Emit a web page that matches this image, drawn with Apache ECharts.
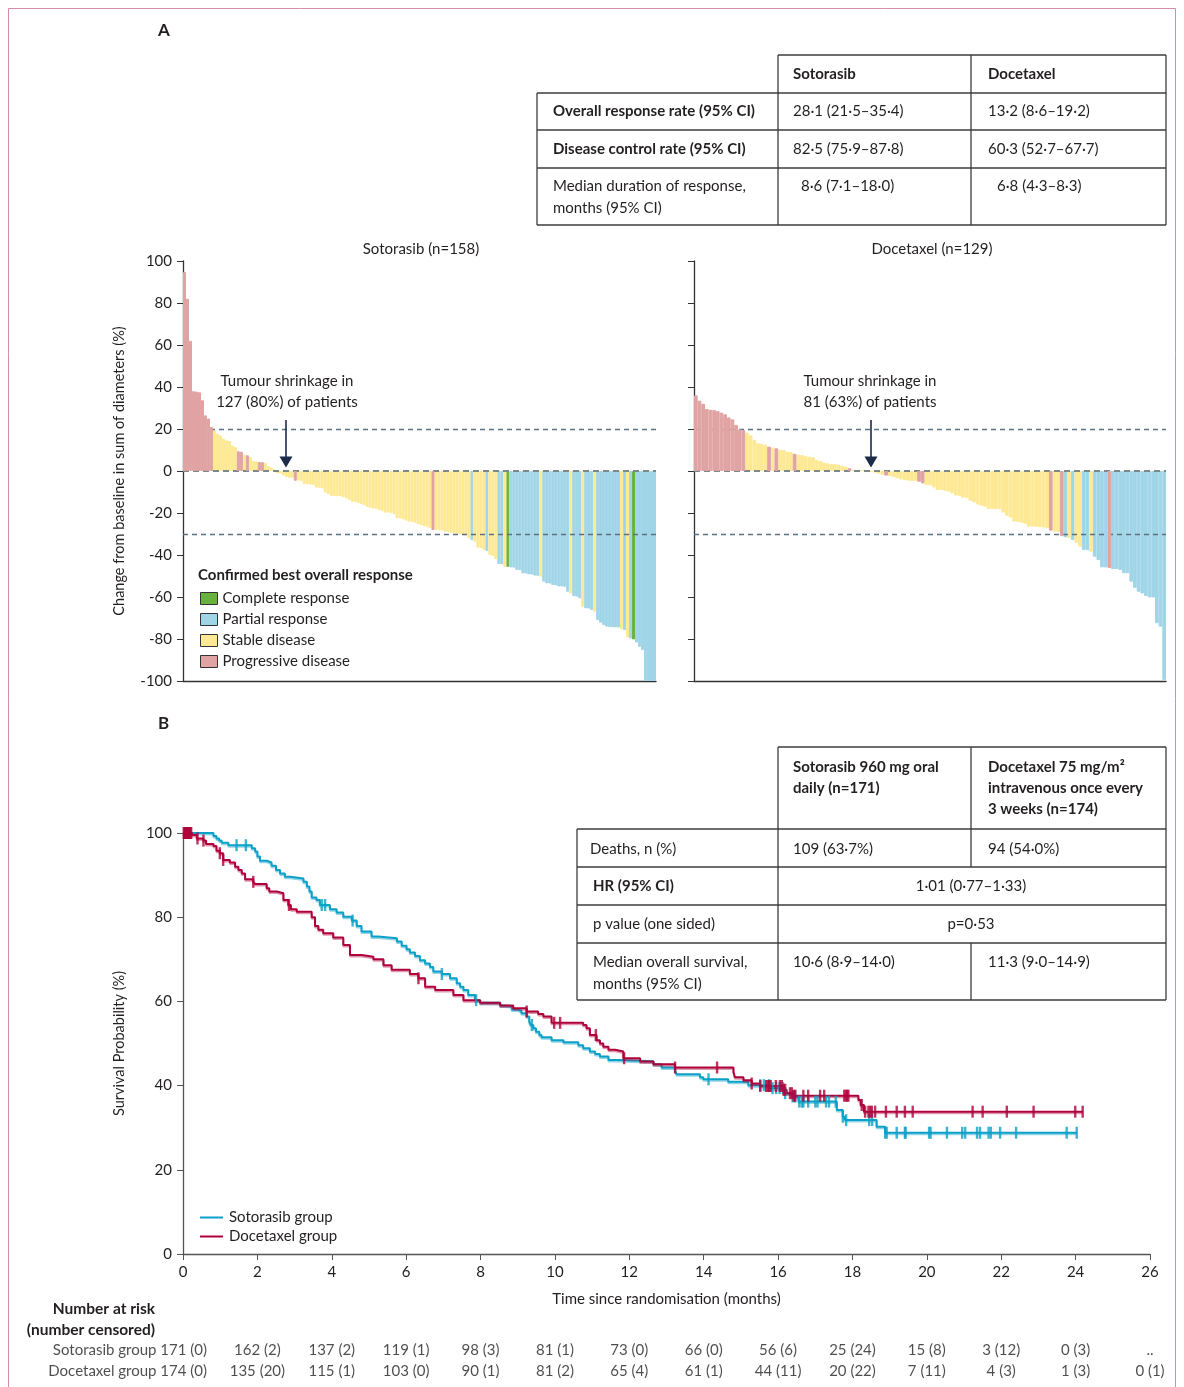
<!DOCTYPE html>
<html><head><meta charset="utf-8">
<script src="https://cdn.jsdelivr.net/npm/echarts@6/dist/echarts.min.js"></script>
<style>html,body{margin:0;padding:0;background:#fff}#c{width:1184px;height:1387px}</style>
</head><body><div id="c"></div>
<script>
const FONT = 'Lato';
const INK = '#231f20';
// ---------- Panel A: waterfall data ----------
const respNames = {C:'Complete response', R:'Partial response', S:'Stable disease', P:'Progressive disease'};
const respColors = {C:'#6ab23e', R:'#a0d5e8', S:'#fde994', P:'#e0a3a3'};
const respOrder = ['C','R','S','P'];

const sotoVals = [
 94.8,82,62,38,37.8,37.5,33.7,26.5,25,21,
 19.4,17.8,17,15.4,14.6,14.3,12.2,11.4,9.4,9.2,
 7.8,7.5,6.7,4.8,4.6,4.3,4.2,4.0,2.4,1.7,
 0.8,-1.1,-1.2,-2.2,-2.9,-3.2,-3.3,-4.6,-4.6,-4.7,
 -6.2,-6.3,-6.5,-6.6,-7.9,-8.0,-8.3,-10.3,-11,-11.9,
 -11.9,-12,-12,-12.5,-13,-13.8,-14.6,-14.7,-15.1,-15.7,
 -16.2,-17,-17.5,-17.9,-18,-18.6,-19,-19.8,-19.8,-19.9,
 -20.6,-22.5,-22.6,-23,-23.6,-24.1,-24.2,-24.6,-25.2,-25.8,
 -26.2,-26.5,-27.3,-28.1,-28.1,-28.2,-28.3,-28.9,-29,-29.7,
 -29.7,-29.8,-30.2,-30.5,-30.6,-32,-32.9,-33.7,-36.5,-36.6,
 -37.6,-38,-40,-40.5,-42,-44.3,-44.4,-45.6,-45.6,-45.9,
 -46,-47.1,-47.2,-48.7,-48.8,-49.2,-49.3,-49.8,-49.9,-50.3,
 -52.7,-53.5,-53.6,-54.3,-54.4,-55,-55,-55.1,-57.5,-58.3,
 -59.5,-59.8,-60.6,-64.6,-65.4,-65.5,-66.2,-67,-71,-72.2,
 -73.3,-74.1,-74.4,-74.4,-74.5,-74.5,-75.4,-75.7,-79.2,-79.7,
 -80.2,-81.7,-83.7,-85.2,-100,-100,-100,-100
];
// response runs [code, count], in bar order
const sotoRespRuns = [['P',10],['S',8],['P',2],['S',1],['P',1],['S',3],['P',2],['S',10],['P',1],['S',45],['P',1],['S',12],
 ['R',1],['S',4],['R',1],['S',3],['R',2],['S',1],['C',1],['R',10],['S',1],['R',9],['S',1],['R',3],['S',1],['R',3],['S',1],
 ['R',8],['S',1],['R',1],['S',1],['R',1],['C',1],['R',7]];

const doceVals = [
 36,33.5,32,29.6,29.2,29,28.5,27.8,27,25.5,
 24.6,22,19.8,19.5,18.3,17,14.8,13.2,12.9,12.5,
 11.6,11.2,10.8,10,10,9.2,9,8.2,7.8,7.6,
 7.1,6.8,6.5,5.2,4.8,4,3.7,3.3,3.3,3,
 2.5,2.1,1.3,0.5,0.5,0.4,0.3,0.2,-0.4,-0.8,
 -1.3,-1.8,-2.2,-2.4,-2.8,-3.5,-4,-4.3,-4.6,-4.7,
 -4.8,-5.1,-5.9,-6.7,-6.8,-7.8,-9,-9,-9.4,-9.8,
 -10.6,-11.7,-11.8,-12.7,-12.8,-14.1,-14.9,-15.9,-16.5,-17,
 -18.1,-18.1,-18.2,-18.2,-19.8,-21.3,-22.2,-24.1,-24.2,-24.6,
 -25.2,-26.5,-26.5,-26.6,-26.8,-26.9,-27.3,-28.4,-28.9,-29,
 -31,-31.6,-32,-32.9,-34.2,-36,-37.6,-37.6,-38.4,-40.8,
 -42.4,-45.9,-45.9,-46.2,-46.7,-46.7,-47.1,-48.7,-48.7,-52.7,
 -55.6,-57.5,-58.3,-59.5,-60.2,-60.2,-72.5,-74.1,-99.5
];
const doceRespRuns = [['P',14],['S',6],['P',1],['S',1],['P',1],['S',4],['P',1],['S',14],['P',1],['S',9],['P',1],['S',8],
 ['P',2],['S',34],['P',1],['S',2],['P',1],['R',1],['S',1],['R',1],['S',2],['R',2],['S',1],['R',4],['P',1],['R',15]];

const refLines = [20, -30];
const panelTitles = ['Sotorasib (n=158)', 'Docetaxel (n=129)'];
const yTicksA = {min:-100, max:100, interval:20};

// ---------- Panel B: Kaplan-Meier data [months, survival %] ----------
const sotoKM = [[0,100],[0.82,99.3],[0.9,98.7],[0.97,98.2],[1.04,97.7],[1.22,97.1],[1.85,96.4],[1.94,95.6],[2.0,94.4],[2.07,93.4],
 [2.25,93.0],[2.38,92.2],[2.5,91.2],[2.61,90.4],[2.74,89.6],[2.88,89.2],[3.24,88.4],[3.33,87.3],[3.4,86.1],[3.46,84.7],
 [3.59,84.1],[3.68,82.9],[3.95,81.9],[4.13,81.1],[4.31,80.1],[4.54,79.2],[4.67,77.9],[4.8,76.6],[5.07,75.4],[5.25,75.0],
 [5.75,74.2],[5.88,73.2],[6.01,72.4],[6.1,71.6],[6.24,70.8],[6.37,69.8],[6.51,69.0],[6.64,68.2],[6.73,67.1],[6.96,66.5],
 [7.18,65.5],[7.36,64.3],[7.45,63.5],[7.54,62.7],[7.67,61.5],[7.85,60.3],[7.99,59.7],[8.52,59.1],[8.57,58.9],[8.84,58.1],
 [8.97,57.8],[9.1,57.2],[9.24,56.4],[9.31,55.2],[9.35,54.4],[9.42,53.6],[9.49,52.8],[9.58,52.0],[9.64,51.5],[9.91,50.8],
 [10.23,50.3],[10.63,49.6],[10.76,48.9],[10.94,48.1],[11.08,47.5],[11.21,46.9],[11.44,46.1],[11.71,45.8],[12.65,45.1],[12.87,44.3],
 [13.23,43.7],[13.27,42.7],[13.9,42.0],[13.99,41.5],[14.66,40.9],[15.2,40.1],[15.78,39.4],[16.14,38.2],[16.37,37.4],[16.55,36.2],
 [17.58,34.2],[17.74,32.6],[17.8,31.8],[18.65,30.2],[18.88,28.8],[24.03,28.8]];
const doceKM = [[0,100],[0.24,99.5],[0.37,98.7],[0.55,98.2],[0.62,97.4],[0.82,96.9],[0.9,95.8],[0.99,95.2],[1.08,93.6],[1.26,93.0],
 [1.4,92.0],[1.49,91.2],[1.58,90.4],[1.67,89.0],[1.89,88.4],[1.94,87.9],[2.25,86.9],[2.32,86.1],[2.52,85.7],[2.7,84.1],
 [2.83,82.9],[2.9,81.9],[3.06,81.3],[3.46,80.0],[3.55,77.9],[3.64,77.0],[3.77,76.2],[4.04,75.2],[4.31,73.4],[4.49,71.0],
 [4.8,70.6],[5.12,70.0],[5.39,68.6],[5.61,67.5],[6.1,66.5],[6.33,65.5],[6.51,63.5],[6.78,62.7],[7.27,61.5],[7.54,60.3],
 [7.99,59.7],[8.53,59.0],[8.88,58.4],[9.24,57.6],[9.55,57.0],[9.69,56.4],[9.91,54.9],[10.76,54.4],[10.85,53.6],[10.94,52.0],
 [11.12,50.8],[11.21,50.0],[11.3,49.2],[11.44,48.5],[11.62,48.1],[11.84,46.5],[12.29,45.7],[12.65,45.1],[13.23,44.3],[14.8,43.3],
 [14.84,42.0],[15.07,41.3],[15.29,40.5],[15.52,39.9],[16.14,39.0],[16.23,38.2],[16.41,37.6],[18.16,36.6],[18.22,35.4],[18.31,33.8],
 [24.19,33.8]];
const sotoCens = [1.44,1.69,3.73,3.82,4.56,6.96,7.88,9.38,14.13,15.52,15.62,15.76,15.85,15.95,16.04,16.13,16.19,16.39,16.46,16.57,
 16.64,16.68,16.81,17.0,17.06,17.29,17.37,17.55,17.74,17.83,18.45,18.53,18.88,18.92,19.19,19.41,19.43,20.06,20.1,20.54,
 20.95,21.03,21.35,21.43,21.66,21.72,21.97,22.4,23.76,24.03];
const doceCens = [0.02,0.04,0.06,0.08,0.1,0.12,0.14,0.16,0.18,0.2,0.22,0.39,0.55,0.99,1.08,1.89,2.85,6.33,9.24,9.98,
 10.14,11.1,11.86,13.23,14.36,15.29,15.52,15.68,15.72,15.76,15.8,15.94,16.05,16.1,16.15,16.19,16.32,16.37,16.42,16.46,
 16.68,16.81,17.13,17.24,17.78,17.82,17.86,17.89,18.25,18.34,18.43,18.48,18.52,18.61,18.9,19.19,19.41,19.62,21.23,21.5,
 22.15,22.87,23.99,24.19];
const kmNames = ['Sotorasib group','Docetaxel group'];
const kmColors = ['#0aa0c8','#b0003a'];
const xTicksB = {min:0, max:26, interval:2};
const yTicksB = {min:0, max:100, interval:20};

// number at risk
const riskTimes = [0,2,4,6,8,10,12,14,16,18,20,22,24,26];
const sotoRisk = ['171 (0)','162 (2)','137 (2)','119 (1)','98 (3)','81 (1)','73 (0)','66 (0)','56 (6)','25 (24)','15 (8)','3 (12)','0 (3)','..'];
const doceRisk = ['174 (0)','135 (20)','115 (1)','103 (0)','90 (1)','81 (2)','65 (4)','61 (1)','44 (11)','20 (22)','7 (11)','4 (3)','1 (3)','0 (1)'];

// tables
const tableAHead = ['Sotorasib','Docetaxel'];
const tableARows = [
 {label:['Overall response rate (95% CI)'], bold:true, a:'28·1 (21·5–35·4)', b:'13·2 (8·6–19·2)'},
 {label:['Disease control rate (95% CI)'], bold:true, a:'82·5 (75·9–87·8)', b:'60·3 (52·7–67·7)'},
 {label:['Median duration of response,','months (95% CI)'], bold:false, a:'8·6 (7·1–18·0)', b:'6·8 (4·3–8·3)'}
];
const tableBHead = [['Sotorasib 960 mg oral','daily (n=171)'],['Docetaxel 75 mg/m²','intravenous once every','3 weeks (n=174)']];
const tableBRows = [
 {label:['Deaths, n (%)'], bold:false, a:'109 (63·7%)', b:'94 (54·0%)'},
 {label:['HR (95% CI)'], bold:true, merged:'1·01 (0·77–1·33)'},
 {label:['p value (one sided)'], bold:false, merged:'p=0·53'},
 {label:['Median overall survival,','months (95% CI)'], bold:false, a:'10·6 (8·9–14·0)', b:'11·3 (9·0–14·9)'}
];

// ---------- helpers ----------
function expandRuns(runs){ const out=[]; runs.forEach(([c,n])=>{ for(let k=0;k<n;k++) out.push(c); }); return out; }
const sotoResp = expandRuns(sotoRespRuns);
const doceResp = expandRuns(doceRespRuns);
function survAt(km, t){ let s = km[0][1]; for (const p of km){ if (p[0] <= t) s = p[1]; else break; } return s; }

function T(text, x, y, o){ return {type:'text', silent:true, z:50, style:Object.assign({text, x, y, fill:INK, fontSize:15, fontFamily:FONT, align:'left', verticalAlign:'middle'}, o||{})}; }
function L(x1,y1,x2,y2,c,w){ return {type:'line', silent:true, z:50, shape:{x1,y1,x2,y2}, style:{stroke:c||'#3c3c3c', lineWidth:w||1.3}}; }

const graphics = [];
graphics.push({type:'rect', silent:true, z:0, shape:{x:8.5,y:8.5,width:1167,height:1400}, style:{fill:null, stroke:'#d88aa8', lineWidth:1}});
graphics.push(T('A',158,31,{fontWeight:'bold',fontSize:17}));
graphics.push(T('B',158,724,{fontWeight:'bold',fontSize:17}));

// Table A
[[778,55,1166,55],[537,93,1166,93],[537,130,1166,130],[537,168,1166,168],[537,225,1166,225],
 [537,93,537,225],[778,55,778,225],[971,55,971,225],[1166,55,1166,225]].forEach(a=>graphics.push(L(...a)));
graphics.push(T(tableAHead[0],793,74,{fontWeight:'bold'}));
graphics.push(T(tableAHead[1],988,74,{fontWeight:'bold'}));
const rowAY=[111,149,186];
tableARows.forEach((r,i)=>{
  r.label.forEach((s,j)=>graphics.push(T(s,553,rowAY[i]+j*22,{fontWeight:r.bold?'bold':'normal'})));
  graphics.push(T(r.a, i===2?801:793, rowAY[i]));
  graphics.push(T(r.b, i===2?997:988, rowAY[i]));
});

// Table B
[[778,747,1166,747],[577,829,1166,829],[577,867,1166,867],[577,905,1166,905],[577,943,1166,943],[577,1000,1166,1000],
 [577,829,577,1000],[778,747,778,1000],[971,747,971,867],[971,943,971,1000],[1166,747,1166,1000]].forEach(a=>graphics.push(L(...a)));
tableBHead[0].forEach((s,j)=>graphics.push(T(s,793,767+j*21,{fontWeight:'bold'})));
tableBHead[1].forEach((s,j)=>graphics.push(T(s,988,767+j*21,{fontWeight:'bold'})));
const rowBY=[849,886,924,962];
tableBRows.forEach((r,i)=>{
  r.label.forEach((s,j)=>graphics.push(T(s, i===0?590:593, rowBY[i]+j*22,{fontWeight:r.bold?'bold':'normal'})));
  if (r.merged) graphics.push(T(r.merged,971,rowBY[i],{align:'center'}));
  else { graphics.push(T(r.a,793,rowBY[i])); graphics.push(T(r.b,988,rowBY[i])); }
});

// Panel A titles, annotations, legend title
graphics.push(T(panelTitles[0],421,249,{align:'center'}));
graphics.push(T(panelTitles[1],932,249,{align:'center'}));
graphics.push(T('Tumour shrinkage in',287,381,{align:'center'}));
graphics.push(T('127 (80%) of patients',287,402,{align:'center'}));
graphics.push(T('Tumour shrinkage in',870,381,{align:'center'}));
graphics.push(T('81 (63%) of patients',870,402,{align:'center'}));
[[286],[871]].forEach(([ax])=>{
  graphics.push(L(ax,420,ax,458,'#1c2b4a',1.6));
  graphics.push({type:'polygon', silent:true, z:50, shape:{points:[[ax-6.5,456.5],[ax+6.5,456.5],[ax,467.5]]}, style:{fill:'#1c2b4a'}});
});
graphics.push(T('Confirmed best overall response',198,575,{fontWeight:'bold'}));
graphics.push(T('Number at risk',155,1309,{fontWeight:'bold',align:'right',fontSize:15.5}));
graphics.push(T('(number censored)',155,1330,{fontWeight:'bold',align:'right',fontSize:15.5}));

// ---------- series ----------
const series = [];
function waterfall(vals, resp, gi){
  respOrder.forEach(code=>{
    const s = {
      name: respNames[code], type:'bar', xAxisIndex:gi, yAxisIndex:gi, stack:'w'+gi,
      barCategoryGap:'0%', itemStyle:{color:respColors[code], borderColor:respColors[code], borderWidth:1},
      data: vals.map((v,i)=> resp[i]===code ? v : null),
      silent:true
    };
    if (code==='P'){
      s.z = 5;
      s.markLine = {silent:true, symbol:['none','none'], label:{show:false},
        lineStyle:{type:[5,4], color:'#5d7280', width:1.3},
        data: refLines.map(v=>({yAxis:v})).concat([{yAxis:0, lineStyle:{type:[6,4], color:'#7d8888', width:2}}])};
    }
    series.push(s);
  });
}
waterfall(sotoVals, sotoResp, 0);
waterfall(doceVals, doceResp, 1);

[sotoKM, doceKM].forEach((km,k)=>{
  series.push({name:kmNames[k], type:'line', step:'end', xAxisIndex:2, yAxisIndex:2, showSymbol:false, silent:true,
    color:kmColors[k], data:km, z:3,
    lineStyle:{width:2, color:kmColors[k], shadowColor: k===0?'rgba(10,160,200,0.45)':'rgba(176,0,58,0.4)', shadowOffsetY:1.5, shadowBlur:0}});
});
[sotoCens, doceCens].forEach((cens,k)=>{
  const km = k===0?sotoKM:doceKM;
  series.push({name:'cens'+k, type:'scatter', xAxisIndex:2, yAxisIndex:2, symbol:'rect', symbolSize:[2.4,12], silent:true, z:4,
    itemStyle:{color:kmColors[k]}, data: cens.map(t=>[t, survAt(km,t)])});
});

[sotoRisk, doceRisk].forEach((arr,k)=>{
  series.push({name:'risk'+k, type:'scatter', xAxisIndex:3, yAxisIndex:3, symbolSize:0, silent:true,
    data: arr.map((s,i)=>{
      const item = {value:[riskTimes[i], k], txt:s};
      if (i===0) item.label = {align:'right', offset:[24,0], formatter: kmNames[k]+' '+s};
      return item;
    }),
    label:{show:true, position:'inside', fontSize:15, fontFamily:FONT, color:INK, formatter:p=>p.data.txt}});
});

const axisText = {fontSize:15, fontFamily:FONT, color:INK};
const option = {
  animation:false,
  backgroundColor:'#fff',
  textStyle:{fontFamily:FONT},
  grid:[
    {left:183, top:261, width:473, height:420},
    {left:694, top:261, width:472, height:420},
    {left:183, top:833, width:967, height:421},
    {left:183, top:1340, width:967, height:42}
  ],
  xAxis:[
    {type:'category', gridIndex:0, data:sotoVals.map((_,i)=>i), axisLine:{onZero:false, lineStyle:{color:'#333', width:1.3}}, axisTick:{show:false}, axisLabel:{show:false}},
    {type:'category', gridIndex:1, data:doceVals.map((_,i)=>i), axisLine:{onZero:false, lineStyle:{color:'#333', width:1.3}}, axisTick:{show:false}, axisLabel:{show:false}},
    {type:'value', gridIndex:2, min:xTicksB.min, max:xTicksB.max, interval:xTicksB.interval, splitLine:{show:false},
      axisLine:{onZero:false, lineStyle:{color:'#555', width:1.3}}, axisTick:{length:6, lineStyle:{color:'#555'}},
      axisLabel:Object.assign({margin:11}, axisText),
      name:'Time since randomisation (months)', nameLocation:'middle', nameGap:38, nameTextStyle:axisText},
    {type:'value', gridIndex:3, min:xTicksB.min, max:xTicksB.max, show:false}
  ],
  yAxis:[
    {type:'value', gridIndex:0, min:yTicksA.min, max:yTicksA.max, interval:yTicksA.interval, splitLine:{show:false},
      axisLine:{show:true, lineStyle:{color:'#333', width:1.3}}, axisTick:{show:true, length:6, lineStyle:{color:'#333'}},
      axisLabel:Object.assign({margin:11}, axisText),
      name:'Change from baseline in sum of diameters (%)', nameLocation:'middle', nameGap:56, nameTextStyle:{fontSize:14.5, fontFamily:FONT, color:INK}},
    {type:'value', gridIndex:1, min:yTicksA.min, max:yTicksA.max, interval:yTicksA.interval, splitLine:{show:false},
      axisLine:{show:true, lineStyle:{color:'#333', width:1.3}}, axisTick:{show:true, length:6, lineStyle:{color:'#333'}},
      axisLabel:{show:false}},
    {type:'value', gridIndex:2, min:yTicksB.min, max:yTicksB.max, interval:yTicksB.interval, splitLine:{show:false},
      axisLine:{show:true, lineStyle:{color:'#555', width:1.3}}, axisTick:{show:true, length:6, lineStyle:{color:'#555'}},
      axisLabel:Object.assign({margin:11}, axisText),
      name:'Survival Probability (%)', nameLocation:'middle', nameGap:56, nameTextStyle:{fontSize:14.5, fontFamily:FONT, color:INK}},
    {type:'category', gridIndex:3, data:[0,1], inverse:true, show:false}
  ],
  legend:[
    {data:respOrder.map(c=>respNames[c]), orient:'vertical', left:195, top:586, itemWidth:17, itemHeight:12, itemGap:6,
      icon:'rect', selectedMode:false, itemStyle:{borderColor:'#333', borderWidth:1},
      textStyle:{fontSize:15, fontFamily:FONT, color:INK, padding:[0,0,0,0]}},
    {data:kmNames, orient:'vertical', left:195, top:1205, itemWidth:23, itemHeight:2, itemGap:4, icon:'rect', selectedMode:false,
      textStyle:{fontSize:15, fontFamily:FONT, color:INK, padding:[0,0,0,1]}}
  ],
  graphic:graphics,
  series
};
const chart = echarts.init(document.getElementById('c'), null, {renderer:'canvas'});
chart.setOption(option);
</script>
</body></html>
